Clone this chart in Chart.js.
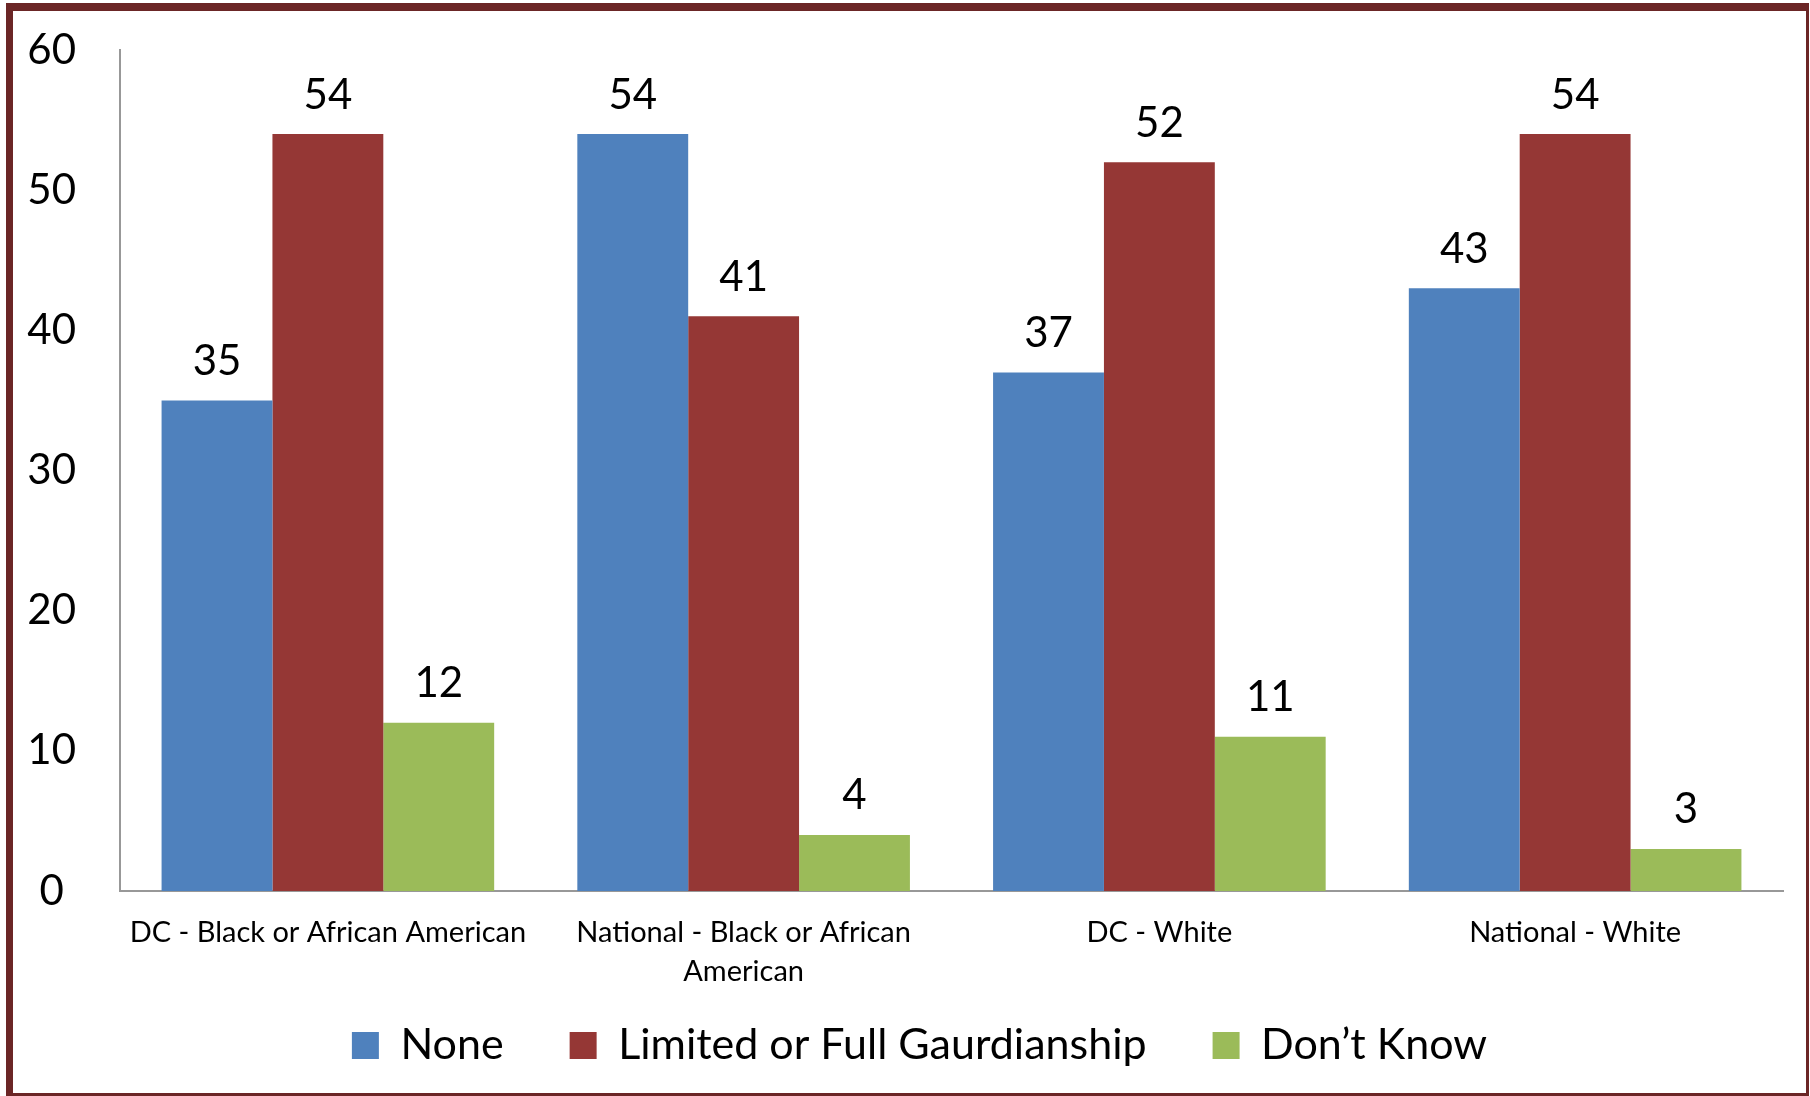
<!DOCTYPE html>
<html>
<head>
<meta charset="utf-8">
<script src="https://cdn.jsdelivr.net/npm/chart.js@4"></script>
<style>
  body { margin: 0; background: #fff; }
  #wrap { position: relative; width: 1810px; height: 1096px; }
  #frame {
    position: absolute; left: 6px; top: 3px; right: 1px; bottom: 0px;
    border-style: solid; border-color: #6b2626;
    border-width: 8px 3px 3px 7px;
    pointer-events: none;
  }
</style>
</head>
<body>
<div id="wrap">
  <canvas id="guardChart" width="1810" height="1096"></canvas>
  <div id="frame"></div>
</div>
<script>
const categories = [
    'DC - Black or African American',
    ['National - Black or African', 'American'],
    'DC - White',
    'National - White'
]
const seriesNames = ['None', 'Limited or Full Gaurdianship', 'Don\u2019t Know']
const noneValues = [35, 54, 37, 43]
const guardianValues = [54, 41, 52, 54]
const dontKnowValues = [12, 4, 11, 3]
const yTicks = [0, 10, 20, 30, 40, 50, 60]

const fontName = 'Lato, "Open Sans", sans-serif'

// draw the numbers above each bar
const barValues = {
    id: 'barValues',
    afterDatasetsDraw(chart) {
        const ctx = chart.ctx
        ctx.save()
        ctx.font = '42px ' + fontName
        ctx.fillStyle = '#000'
        ctx.textAlign = 'center'
        ctx.textBaseline = 'middle'
        chart.data.datasets.forEach((ds, i) => {
            chart.getDatasetMeta(i).data.forEach((bar, j) => {
                ctx.fillText(ds.data[j], bar.x, bar.y - 39)
            })
        })
        ctx.restore()
    }
}

// nudge the legend a bit (right and up) like the original
const legendShift = {
    id: 'legendShift',
    afterLayout(chart) {
        const lg = chart.legend
        lg.left += 28
        lg.right += 28
        lg.top -= 25
        lg.bottom -= 25
    }
}

const dataChart = {
    labels: categories,
    datasets: [{
        label: seriesNames[0],
        data: noneValues,
        backgroundColor: '#4f81bd'
    }, {
        label: seriesNames[1],
        data: guardianValues,
        backgroundColor: '#953735'
    }, {
        label: seriesNames[2],
        data: dontKnowValues,
        backgroundColor: '#9bbb59'
    }]
}

const configChart = {
    type: 'bar',
    data: dataChart,
    options: {
        responsive: false,
        animation: false,
        layout: {
            padding: { left: 0, top: 50, right: 27, bottom: -6 }
        },
        datasets: {
            bar: { categoryPercentage: 0.8, barPercentage: 1.0 }
        },
        scales: {
            x: {
                grid: { display: false },
                border: { color: '#989898', width: 2 },
                ticks: {
                    color: '#000',
                    padding: 14,
                    maxRotation: 0,
                    autoSkip: false,
                    font: { family: fontName, size: 29, lineHeight: 1.35 }
                },
                afterFit: (scale) => { scale.height = 92 }
            },
            y: {
                min: 0,
                max: 60,
                grid: { display: false },
                border: { color: '#989898', width: 2 },
                afterBuildTicks: (scale) => {
                    scale.ticks = yTicks.map(v => ({ value: v }))
                },
                ticks: {
                    color: '#000',
                    padding: 36,
                    crossAlign: 'center',
                    font: { family: fontName, size: 42 }
                },
                afterFit: (scale) => {
                    scale.width = 120
                    scale.paddingTop = 0
                    scale.paddingBottom = 0
                }
            }
        },
        plugins: {
            legend: {
                position: 'bottom',
                labels: {
                    color: '#000',
                    boxWidth: 27,
                    boxHeight: 27,
                    padding: 66,
                    font: { family: fontName, size: 43 }
                }
            },
            tooltip: { enabled: false }
        }
    },
    plugins: [barValues, legendShift]
}

const guardChart = new Chart(
    document.getElementById('guardChart'),
    configChart
)
</script>
</body>
</html>
